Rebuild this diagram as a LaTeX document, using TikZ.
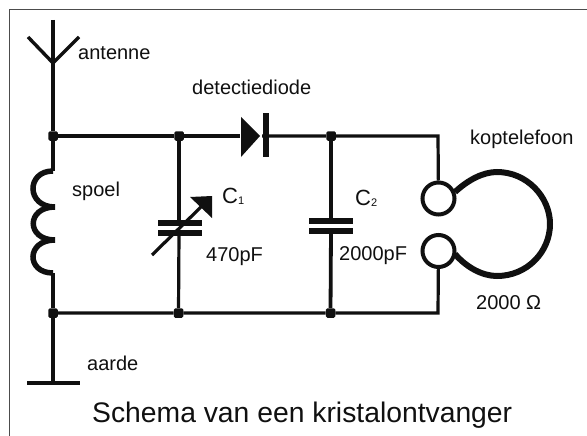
\documentclass[tikz,border=0pt]{standalone}
\usepackage{fontspec}
\setmainfont{Liberation Sans}
\definecolor{ink}{HTML}{101010}
\tikzset{
 wire/.style={line width=3.2pt,draw=ink,line cap=butt},
 thick wire/.style={line width=3.4pt,draw=ink},
 plate/.style={line width=6pt,draw=ink},
 loopline/.style={line width=6pt,draw=ink},
 junc/.style={rectangle,fill=ink,minimum size=9.5pt,inner sep=0pt,rounded corners=1.5pt},
 lab/.style={anchor=base west,inner sep=0pt,text=ink,font=\fontsize{20pt}{22pt}\selectfont},
 earpiece/.style={circle,draw=ink,line width=4pt,minimum size=32pt,inner sep=0pt,fill=white}
}
\begin{document}
\begin{tikzpicture}[x=1pt,y=-1pt]
\useasboundingbox (0,0) rectangle (587,436);
\fill[white] (0,0) rectangle (587,436);
\coordinate (fTL) at (9,9.5); \coordinate (fTR) at (587,9.5); \coordinate (fBL) at (9,436);
\draw[draw=ink!75,line width=1pt] (fBL) -- (fTL) -- (fTR);
% coordinates
\coordinate (antTop) at (53,20); \coordinate (antFoot) at (53,63);
\coordinate (antL) at (28,37); \coordinate (antR) at (79,37);
\node[junc] (jTL) at (53,136) {};
\node[junc] (jT1) at (179,136) {};
\node[junc] (jT2) at (331,136) {};
\node[junc] (jBL) at (53,313) {};
\node[junc] (jB1) at (178.5,313) {};
\node[junc] (jB2) at (330.5,313) {};
\coordinate (cornT) at (438,136); \coordinate (cornB) at (438,313);
\coordinate (gnd) at (53,383); \coordinate (gndL) at (27,383); \coordinate (gndR) at (80,383);
\node[earpiece] (earT) at (438.5,198.5) {};
\node[earpiece] (earB) at (438.5,251) {};
% antenna and ground
\draw[thick wire] (antL) -- (antFoot) -- (antR);
\draw[wire,line width=3.8pt] (antTop) -- (jTL);
\draw[wire,line width=3.8pt] (jBL) -- (gnd);
\draw[wire,line width=3.8pt] (gndL) -- (gndR);
% top and bottom rails
\draw[wire] (jTL) -- (jT1) -- (240,136);
\draw[wire] (262,136) -- (jT2) -- (cornT) -- (earT);
\draw[wire] (jBL) -- (jB1) -- (jB2) -- (cornB) -- (earB);
% coil
\coordinate (c0) at (53,171); \coordinate (c1) at (55,207); \coordinate (c2) at (55,240); \coordinate (c3) at (53,273);
\draw[wire,line width=3.8pt] (jTL) -- (c0);
\draw[wire,line width=3.8pt] (c3) -- (jBL);
\draw[line width=5.5pt,draw=ink] (c0) .. controls (26,171) and (26,207) .. (c1)
  .. controls (26,207) and (26,240) .. (c2) .. controls (26,240) and (26,273) .. (c3);
% diode
\fill[ink] (241,117) -- (260,136) -- (241,157) -- cycle;
\fill[ink] (263,113) rectangle (269,157);
% C1
\coordinate (p1a) at (179,223); \coordinate (p1b) at (179,233);
\draw[wire] (jT1) -- (p1a); \draw[wire] (p1b) -- (jB1);
\draw[plate] (158,223) -- (202,223);
\draw[plate] (158,233) -- (202,233);
\coordinate (vS) at (152,255); \coordinate (vE) at (203,205);
\draw[wire] (vS) -- (vE);
\fill[ink] (190,197) -- (212,196) -- (212,218) -- cycle;
% C2
\coordinate (p2a) at (331,221); \coordinate (p2b) at (331,231);
\draw[wire,line width=3.8pt] (jT2) -- (p2a); \draw[wire,line width=3.8pt] (p2b) -- (jB2);
\draw[plate] (309,221) -- (353,221);
\draw[plate] (309,231) -- (353,231);
% headphone
\coordinate (hT) at (455,192); \coordinate (hB) at (455,254);
\draw[loopline] (hT) .. controls (468,180) and (483,172) .. (497,172)
  .. controls (527,172) and (550,197) .. (550,224)
  .. controls (550,252) and (527,276) .. (497,276)
  .. controls (483,276) and (467,268) .. (hB);
% labels
\node[lab] (tAnt) at (78,60) {antenne};
\node[lab] (tDet) at (192,95) {detectiediode};
\node[lab] (tSpoel) at (72,196) {spoel};
\node[lab,font=\fontsize{22pt}{24pt}\selectfont] (tC1) at (222,203) {C\raisebox{-1pt}{\fontsize{11pt}{12pt}\selectfont 1}};
\node[lab] (t470) at (206,261) {470pF};
\node[lab,font=\fontsize{22pt}{24pt}\selectfont] (tC2) at (355,205) {C\raisebox{-1pt}{\fontsize{11pt}{12pt}\selectfont 2}};
\node[lab] (t2000) at (339,260) {2000pF};
\node[lab] (tKop) at (470,145) {koptelefoon};
\node[lab] (tOhm) at (476,309) {2000 Ω};
\node[lab] (tAarde) at (87,370) {aarde};
\node[lab,font=\fontsize{28.3pt}{30pt}\selectfont] (tTitle) at (92,422) {Schema van een kristalontvanger};
\end{tikzpicture}
\end{document}
